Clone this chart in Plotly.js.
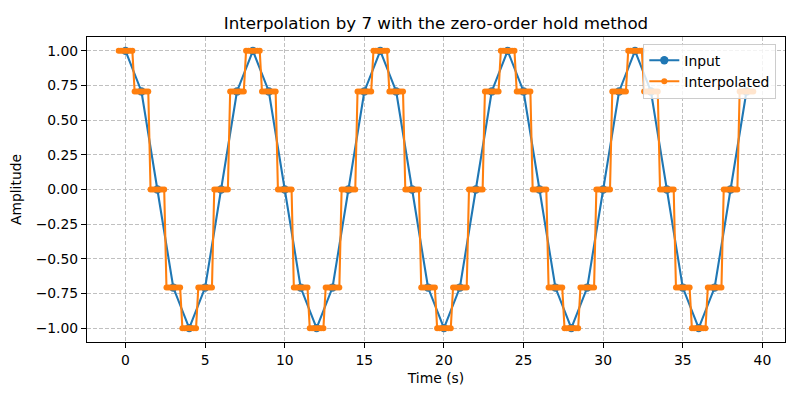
<!DOCTYPE html>
<html>
<head>
<meta charset="utf-8">
<script src="https://cdn.plot.ly/plotly-3.0.1.min.js"></script>
<style>html,body{margin:0;padding:0;background:#fff;}#chart{width:800px;height:400px;}</style>
</head>
<body>
<div id="chart"></div>
<script>
// Input samples (t = 0..39 s)
const inputTime = [0,1,2,3,4,5,6,7,8,9,10,11,12,13,14,15,16,17,18,19,20,21,22,23,24,25,26,27,28,29,30,31,32,33,34,35,36,37,38,39];
const inputValues = [
  1.0, 0.7071, 0.0, -0.7071, -1.0, -0.7071, 0.0, 0.7071,
  1.0, 0.7071, 0.0, -0.7071, -1.0, -0.7071, 0.0, 0.7071,
  1.0, 0.7071, 0.0, -0.7071, -1.0, -0.7071, 0.0, 0.7071,
  1.0, 0.7071, 0.0, -0.7071, -1.0, -0.7071, 0.0, 0.7071,
  1.0, 0.7071, 0.0, -0.7071, -1.0, -0.7071, 0.0, 0.7071
];
const holdFactor = 7;
const xTicks = [0,5,10,15,20,25,30,35,40];
const yTicks = [-1.0,-0.75,-0.5,-0.25,0.0,0.25,0.5,0.75,1.0];

// zero-order hold: each input sample is repeated holdFactor times, centred on its time
const interpTime = [], interpValues = [];
inputTime.forEach((t, i) => {
  for (let k = 0; k < holdFactor; k++) {
    interpTime.push(t + (k - (holdFactor - 1) / 2) / holdFactor);
    interpValues.push(inputValues[i]);
  }
});

const font = {family: 'DejaVu Sans, sans-serif', size: 13.9, color: '#000'};

const traces = [
  {x: inputTime, y: inputValues, name: 'Input', type: 'scatter', mode: 'lines+markers',
   line: {color: '#1f77b4', width: 2.08}, marker: {color: '#1f77b4', size: 8.3, symbol: 'circle'}},
  {x: interpTime, y: interpValues, name: 'Interpolated', type: 'scatter', mode: 'lines+markers',
   line: {color: '#ff7f0e', width: 2.08}, marker: {color: '#ff7f0e', size: 6, symbol: 'circle'}}
];

const axisCommon = {
  showline: true, mirror: true, linecolor: '#000', linewidth: 1,
  ticks: 'outside', ticklen: 5, tickcolor: '#000', tickwidth: 1,
  showgrid: true, gridcolor: '#b0b0b0', gridwidth: 0.8, griddash: '4px,2px',
  zeroline: false, tickfont: font
};

const layout = {
  width: 800, height: 400,
  margin: {l: 87, r: 15, t: 37, b: 58},
  paper_bgcolor: '#fff', plot_bgcolor: '#fff',
  font: font,
  title: {text: 'Interpolation by 7 with the zero-order hold method', font: {family: 'DejaVu Sans, sans-serif', size: 16.67, color: '#000'},
          x: 0.5, xref: 'paper', xanchor: 'center', y: 1 - 23/400, yref: 'container', yanchor: 'middle'},
  xaxis: Object.assign({}, axisCommon, {range: [-2.42, 41.42], tickvals: xTicks, ticktext: xTicks.map(String),
          title: {text: 'Time (s)', font: font, standoff: 6}}),
  yaxis: Object.assign({}, axisCommon, {range: [-1.1, 1.1], tickvals: yTicks, ticktext: yTicks.map(v => v.toFixed(2).replace('-', '\u2212')),
          title: {text: 'Amplitude', font: font, standoff: 10}}),
  legend: {x: 0.797, y: 0.978, xanchor: 'left', yanchor: 'top', bgcolor: 'rgba(255,255,255,0.8)',
           bordercolor: '#cccccc', borderwidth: 1, font: font, tracegroupgap: 0},
  showlegend: true
};

Plotly.newPlot('chart', traces, layout, {staticPlot: true, displayModeBar: false});
</script>
</body>
</html>
